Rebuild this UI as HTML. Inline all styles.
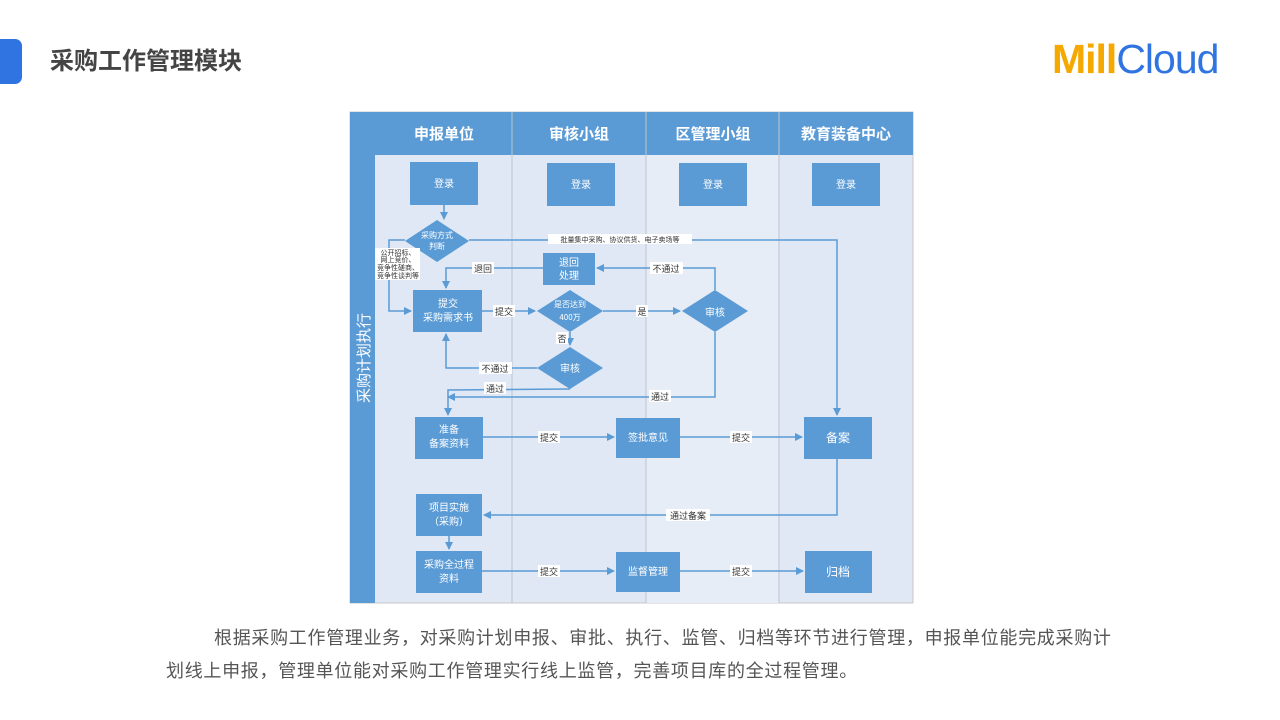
<!DOCTYPE html>
<html><head><meta charset="utf-8"><style>
body{margin:0;width:1280px;height:720px;background:#fff;position:relative;overflow:hidden;font-family:"Liberation Sans","Noto Sans CJK SC",sans-serif}
.bar{position:absolute;left:-10px;top:39px;width:32px;height:45px;background:#2f74e0;border-radius:7px}
.title{position:absolute;left:50px;top:41px;font-size:24px;font-weight:bold;color:#444}
.logo{position:absolute;left:1052px;top:36px;font-size:41px;letter-spacing:-1px}
.p{position:absolute;font-size:18px;color:#555;letter-spacing:0.7px;white-space:nowrap}
svg text{font-family:"Noto Sans CJK SC",sans-serif}
</style></head><body>
<div class="bar"></div>
<div class="title">采购工作管理模块</div>
<div class="logo"><span style="color:#f5a800;font-weight:bold">Mill</span><span style="color:#2f74e0">Cloud</span></div>
<svg style="position:absolute;left:0;top:0" width="1280" height="720">
<defs><marker id="a" markerWidth="8" markerHeight="8" refX="7" refY="4" orient="auto" markerUnits="userSpaceOnUse"><path d="M0,0 L8,4 L0,8z" fill="#5b9bd5"/></marker></defs>
<rect x="350" y="112" width="563" height="491" fill="#dfe8f4" stroke="#c8c8c8"/>
<rect x="646" y="155" width="133" height="448" fill="#e6edf7"/>
<rect x="350" y="112" width="25" height="491" fill="#5b9bd5"/>
<rect x="375" y="112" width="538" height="43" fill="#5b9bd5"/>
<g stroke="#c0c4cc" stroke-width="1"><line x1="512" y1="112" x2="512" y2="603"/><line x1="646" y1="112" x2="646" y2="603"/><line x1="779" y1="112" x2="779" y2="603"/></g>
<g fill="#fff" font-size="15" font-weight="bold" text-anchor="middle"><text x="444" y="139">申报单位</text><text x="579" y="139">审核小组</text><text x="713" y="139">区管理小组</text><text x="846" y="139">教育装备中心</text></g>
<text transform="translate(369,358) rotate(-90)" fill="#fff" font-size="15" text-anchor="middle">采购计划执行</text>
<g fill="#5b9bd5">
<rect x="410" y="162" width="68" height="43"/><rect x="547" y="163" width="68" height="43"/><rect x="679" y="163" width="68" height="43"/><rect x="812" y="163" width="68" height="43"/>
<polygon points="437,220 469,241 437,262 405,241"/>
<rect x="543" y="253" width="52" height="32"/>
<rect x="413" y="290" width="69" height="42"/>
<polygon points="570,290 603,311 570,332 537,311"/>
<polygon points="715,290 748,311 715,332 682,311"/>
<polygon points="570,347 603,368 570,389 537,368"/>
<rect x="415" y="417" width="68" height="42"/><rect x="616" y="418" width="64" height="40"/><rect x="804" y="417" width="68" height="42"/>
<rect x="416" y="494" width="66" height="42"/><rect x="416" y="551" width="66" height="42"/><rect x="616" y="552" width="64" height="40"/><rect x="805" y="551" width="67" height="42"/>
</g>
<g stroke="#5b9bd5" stroke-width="1.5" fill="none" marker-end="url(#a)">
<path d="M444,205 V219"/>
<path d="M469,240 H837 V415"/>
<path d="M405,240 H389 V311 H411"/>
<path d="M543,268 H446 V288"/>
<path d="M482,311 H535"/>
<path d="M603,311 H680"/>
<path d="M715,290 V268 H597"/>
<path d="M570,332 V345"/>
<path d="M537,368 H446 V334"/>
<path d="M570,389 L448,390 V415"/>
<path d="M715,332 V397 H448"/>
<path d="M483,437 H614"/>
<path d="M680,437 H802"/>
<path d="M837,459 V515 H484"/>
<path d="M449,536 V549"/>
<path d="M482,571 H614"/>
<path d="M680,571 H803"/>
</g>
<rect x="375" y="248" width="45" height="32" fill="#fff"/>
<g font-size="7" fill="#333" text-anchor="middle"><text x="398" y="255">公开招标、</text><text x="398" y="262">网上竞价、</text><text x="398" y="270">竞争性磋商、</text><text x="398" y="278">竞争性谈判等</text></g>
<g fill="#fff" font-size="10" text-anchor="middle">
<text x="444" y="187">登录</text><text x="581" y="188">登录</text><text x="713" y="188">登录</text><text x="846" y="188">登录</text>
<text x="437" y="238" font-size="8">采购方式</text><text x="437" y="249" font-size="8">判断</text>
<text x="569" y="266">退回</text><text x="569" y="279">处理</text>
<text x="448" y="307">提交</text><text x="448" y="321">采购需求书</text>
<text x="570" y="307" font-size="8">是否达到</text><text x="570" y="320" font-size="8">400万</text>
<text x="715" y="316">审核</text><text x="570" y="372">审核</text>
<text x="449" y="433">准备</text><text x="449" y="447">备案资料</text>
<text x="648" y="441">签批意见</text><text x="838" y="442" font-size="12">备案</text>
<text x="449" y="511">项目实施</text><text x="449" y="525">（采购）</text>
<text x="449" y="568">采购全过程</text><text x="449" y="582">资料</text>
<text x="648" y="575">监督管理</text><text x="838" y="576" font-size="12">归档</text>
</g>
<g font-size="9" fill="#333" text-anchor="middle">
<rect x="548" y="234" width="144" height="10" fill="#fff"/><text x="620" y="242" font-size="7">批量集中采购、协议供货、电子卖场等</text>
<rect x="472" y="262" width="22" height="12" fill="#fff"/><text x="483" y="272">退回</text>
<rect x="650" y="262" width="33" height="12" fill="#fff"/><text x="666" y="272">不通过</text>
<rect x="493" y="305" width="22" height="12" fill="#fff"/><text x="504" y="315">提交</text>
<rect x="636" y="305" width="12" height="12" fill="#fff"/><text x="642" y="315">是</text>
<rect x="556" y="332" width="12" height="12" fill="#fff"/><text x="562" y="342">否</text>
<rect x="479" y="362" width="33" height="12" fill="#fff"/><text x="495" y="372">不通过</text>
<rect x="484" y="382" width="22" height="12" fill="#fff"/><text x="495" y="392">通过</text>
<rect x="649" y="390" width="22" height="12" fill="#fff"/><text x="660" y="400">通过</text>
<rect x="538" y="431" width="22" height="12" fill="#fff"/><text x="549" y="441">提交</text>
<rect x="730" y="431" width="22" height="12" fill="#fff"/><text x="741" y="441">提交</text>
<rect x="666" y="509" width="44" height="12" fill="#fff"/><text x="688" y="519">通过备案</text>
<rect x="538" y="565" width="22" height="12" fill="#fff"/><text x="549" y="575">提交</text>
<rect x="730" y="565" width="22" height="12" fill="#fff"/><text x="741" y="575">提交</text>
</g>
</svg>
<div class="p" style="left:214px;top:624px">根据采购工作管理业务，对采购计划申报、审批、执行、监管、归档等环节进行管理，申报单位能完成采购计</div>
<div class="p" style="left:166px;top:657px">划线上申报，管理单位能对采购工作管理实行线上监管，完善项目库的全过程管理。</div>
</body></html>
